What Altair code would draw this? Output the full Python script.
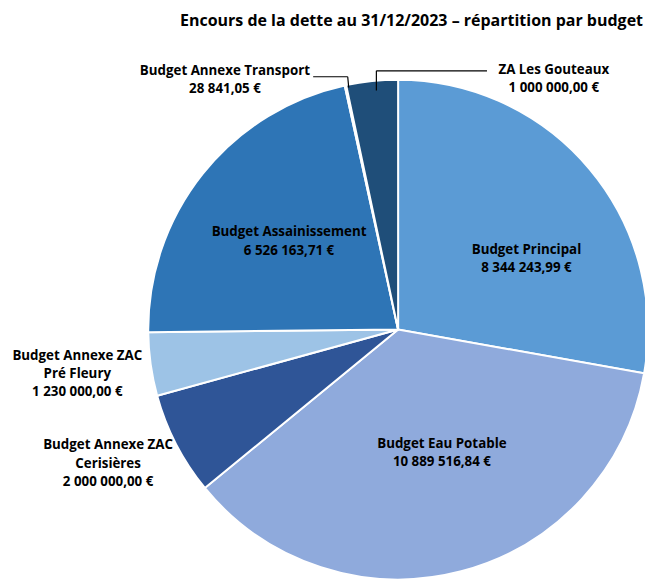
import altair as alt
import pandas as pd

# ---- data ----
categories = [
    "Budget Principal",
    "Budget Eau Potable",
    "Budget Annexe ZAC Cerisières",
    "Budget Annexe ZAC Pré Fleury",
    "Budget Assainissement",
    "Budget Annexe Transport",
    "ZA Les Gouteaux",
]
amounts = [8344243.99, 10889516.84, 2000000.00, 1230000.00, 6526163.71, 28841.05, 1000000.00]
label_names = [
    "Budget Principal",
    "Budget Eau Potable",
    "Budget Annexe ZAC\nCerisières",
    "Budget Annexe ZAC\nPré Fleury",
    "Budget Assainissement",
    "Budget Annexe Transport",
    "ZA Les Gouteaux",
]
amount_texts = [
    "8 344 243,99 €",
    "10 889 516,84 €",
    "2 000 000,00 €",
    "1 230 000,00 €",
    "6 526 163,71 €",
    "28 841,05 €",
    "1 000 000,00 €",
]
colors = ["#5B9BD5", "#8FAADC", "#2F5597", "#9DC3E6", "#2E75B6", "#BDD7EE", "#1F4E79"]

df = pd.DataFrame({
    "cat": categories,
    "amount": amounts,
    "idx": list(range(len(categories))),
    "label": [n + "\n" + a for n, a in zip(label_names, amount_texts)],
})

W, H = 645, 544
CX, CY = 395, 292
R = 253
FONT = "Open Sans"

pie = alt.Chart(df).mark_arc(radius=R, stroke="white", strokeWidth=2).encode(
    theta=alt.Theta("amount:Q", stack=True),
    color=alt.Color("cat:N", scale=alt.Scale(domain=categories, range=colors), legend=None),
    order=alt.Order("idx:Q"),
    x=alt.value(CX),
    y=alt.value(CY),
)

base = (
    alt.Chart(df)
    .transform_joinaggregate(total="sum(amount)")
    .transform_window(cum="sum(amount)", sort=[alt.SortField("idx")])
    .transform_calculate(mid="(datum.cum - datum.amount / 2) / datum.total * 2 * PI")
)

# label layout: (radius, dx, dy) per category
label_layout = {
    "Budget Principal": (150, 15, 16),
    "Budget Eau Potable": (128, 12, -8),
    "Budget Annexe ZAC Cerisières": (325, -5, -32),
    "Budget Annexe ZAC Pré Fleury": (328, 0, -19),
    "Budget Assainissement": (145, 3, -8),
    "Budget Annexe Transport": (258, -121, -10),
    "ZA Les Gouteaux": (252, 184, -12),
}

label_layers = []
for c, (r, dx, dy) in label_layout.items():
    label_layers.append(
        base.transform_filter(alt.datum.cat == c)
        .mark_text(
            radius=r, dx=dx, dy=dy, font=FONT, fontSize=13.5, fontWeight="bold",
            color="black", lineBreak="\n", align="center", baseline="middle", lineHeight=18.5,
        )
        .encode(
            theta=alt.Theta("mid:Q", scale=None, stack=False),
            text="label:N",
            x=alt.value(CX),
            y=alt.value(CY),
        )
    )

# leader lines (plot coordinates)
leader_segments = [
    (309, 344, 36, 36),
    (344, 345, 36, 47),
    (373, 373, 30, 50),
    (373, 485, 30, 30),
]
leaders = []
for x1, x2, y1, y2 in leader_segments:
    leaders.append(
        alt.Chart(df.head(1)).mark_rule(color="black", strokeWidth=1.2).encode(
            x=alt.value(x1), x2=alt.value(x2), y=alt.value(y1), y2=alt.value(y2)
        )
    )

chart = alt.layer(pie, *label_layers, *leaders).properties(
    width=W,
    height=H,
    title=alt.TitleParams(
        "Encours de la dette au 31/12/2023 – répartition par budget",
        font=FONT, fontSize=16.2, fontWeight="bold", color="black",
        anchor="end", dx=-9, offset=12,
    ),
    autosize=alt.AutoSizeParams(type="none"),
    padding={"top": 30, "left": 0, "right": 0, "bottom": 0},
).configure_view(stroke=None)

chart.save("out.html", embed_options={"renderer": "svg", "actions": False})
